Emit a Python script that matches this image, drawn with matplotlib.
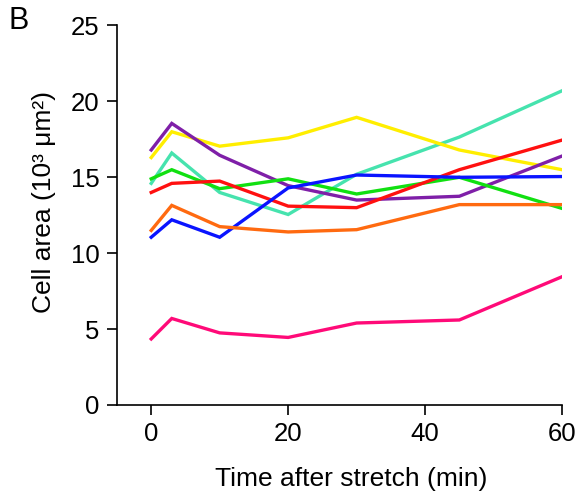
import matplotlib
matplotlib.use("Agg")
import matplotlib.pyplot as plt

plt.rcParams['font.family'] = ['Liberation Sans', 'DejaVu Sans']

time_min = [0, 3, 10, 20, 30, 45, 60]

teal = [14.6, 16.6, 14.0, 12.55, 15.2, 17.65, 20.7]
yellow = [16.3, 18.0, 17.05, 17.6, 18.95, 16.8, 15.5]
purple = [16.8, 18.55, 16.45, 14.45, 13.5, 13.75, 16.4]
green = [14.9, 15.5, 14.25, 14.9, 13.9, 15.0, 12.95]
red = [14.0, 14.6, 14.75, 13.1, 13.0, 15.5, 17.45]
blue = [11.05, 12.2, 11.05, 14.3, 15.15, 15.0, 15.05]
orange = [11.5, 13.15, 11.75, 11.4, 11.55, 13.2, 13.2]
pink = [4.35, 5.7, 4.75, 4.45, 5.4, 5.6, 8.45]

series = [
    (teal, "#46e3ae"),
    (yellow, "#ffee00"),
    (purple, "#7f1fa8"),
    (green, "#11e011"),
    (red, "#ff1010"),
    (blue, "#0a14ff"),
    (orange, "#ff6a10"),
    (pink, "#ff0a78"),
]

fig = plt.figure(figsize=(5.8, 4.99), dpi=100)
ax = fig.add_axes([0.2017, 0.1884, 0.7673, 0.7605])

for values, color in series:
    ax.plot(time_min, values, color=color, lw=2.4, solid_joinstyle='miter')

ax.set_xlim(-5, 60)
ax.set_ylim(0, 25)
ax.set_xticks([0, 20, 40, 60])
ax.set_yticks([0, 5, 10, 15, 20, 25])
ax.spines['top'].set_visible(False)
ax.spines['right'].set_visible(False)
ax.spines['left'].set_linewidth(1.2)
ax.spines['bottom'].set_linewidth(1.2)
ax.tick_params(direction='out', length=7.5, width=1.2, labelsize=18.5)
ax.tick_params(axis='x', pad=5)
ax.tick_params(axis='y', pad=5)

ax.set_xlabel("Time after stretch (min)", fontsize=19)
ax.xaxis.set_label_coords(0.526, -0.163)
ax.set_ylabel("Cell area (10³ μm²)", fontsize=19)
ax.yaxis.set_label_coords(-0.137, 0.535)
fig.text(0.015, 0.958, "B", fontsize=22, va='center', ha='left')

fig.savefig("out.png", dpi=100)
